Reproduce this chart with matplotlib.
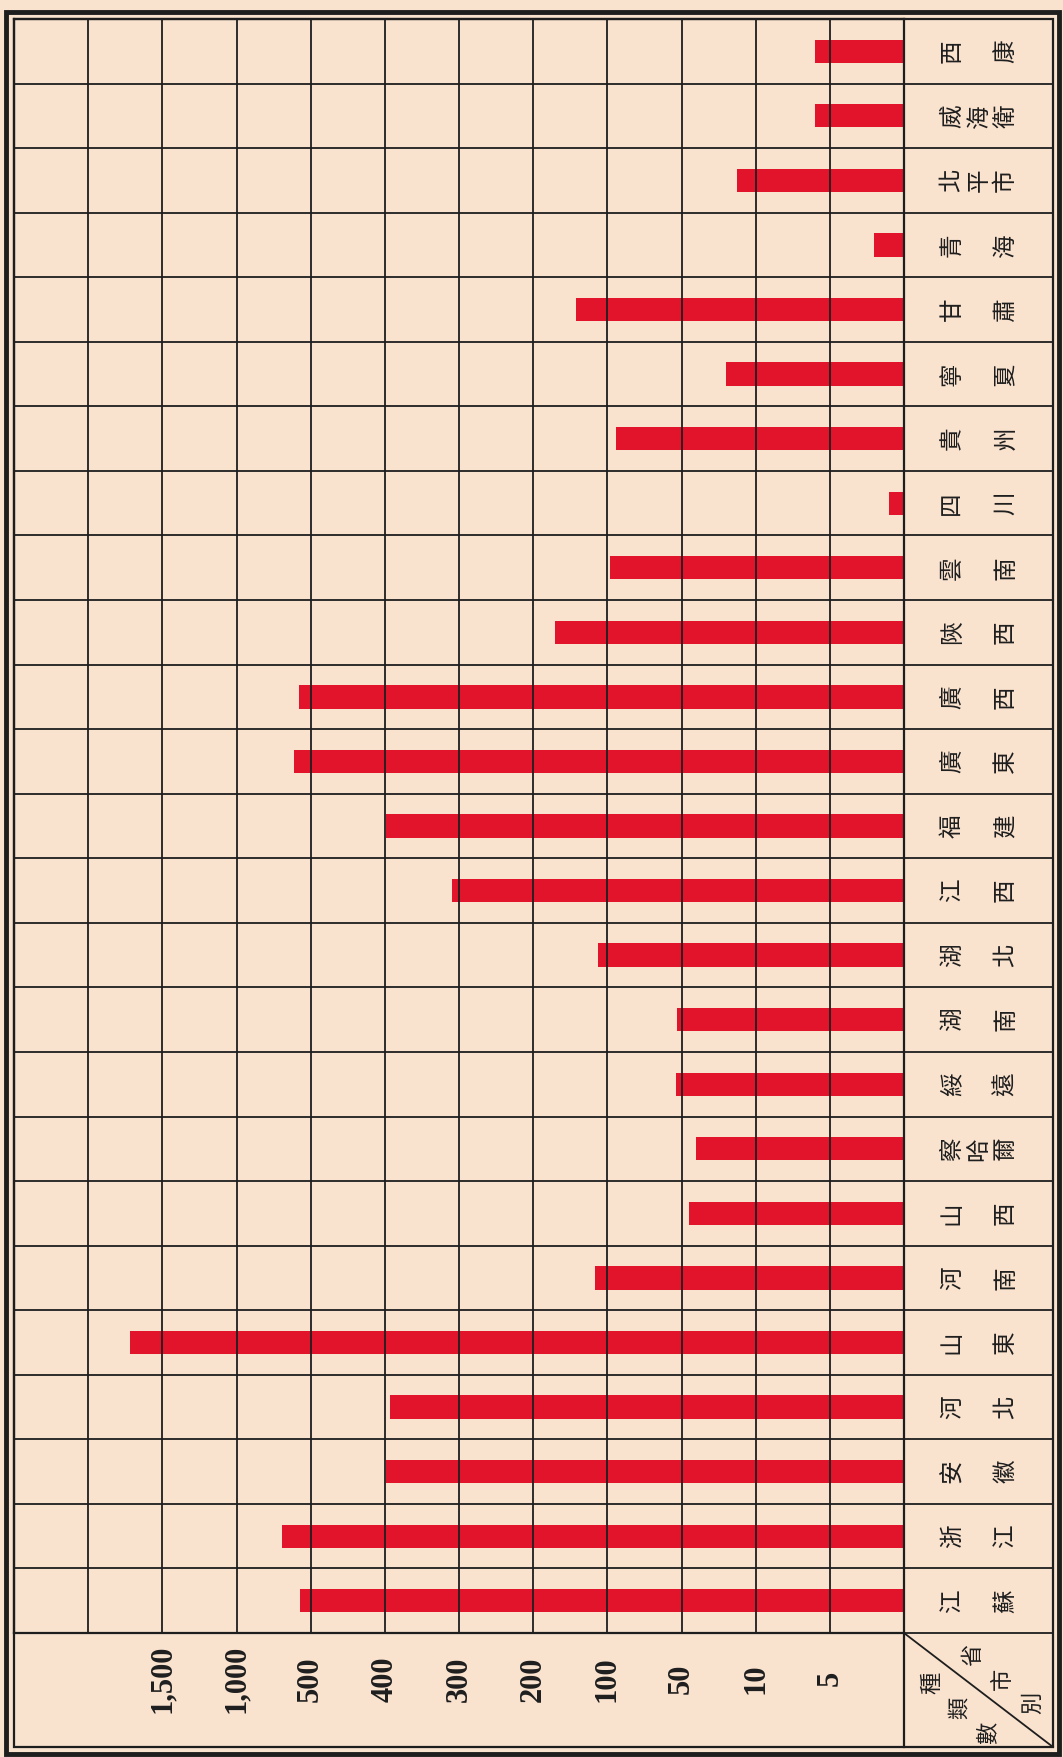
import numpy as np
import matplotlib
matplotlib.use('Agg')
import matplotlib.pyplot as plt
from matplotlib.lines import Line2D
from matplotlib.patches import Rectangle

# data, read top to bottom
provinces = ['西康', '威海衛', '北平市', '青海', '甘肅', '寧夏', '貴州', '四川', '雲南', '陝西',
             '廣西', '廣東', '福建', '江西', '湖北', '湖南', '綏遠', '察哈爾', '山西', '河南',
             '山東', '河北', '安徽', '浙江', '江蘇']
counts = [6, 6, 20, 2, 142, 26, 94, 1, 98, 170,
          580, 610, 398, 310, 112, 53, 54, 42, 46, 117,
          1720, 393, 399, 690, 575]
grid_values = [0, 5, 10, 50, 100, 200, 300, 400, 500, 1000, 1500, 2000, 2500]
tick_labels = ['', '5', '10', '50', '100', '200', '300', '400', '500', '1,000', '1,500', '', '']
corner_top = '省市別'
corner_bottom = '種類數'

paper = '#f9e2ce'
red = '#e2142b'
ink = '#1e1e1e'
cjk = ['Noto Sans CJK TC', 'DejaVu Sans']

W, H = 1063, 1757
fig = plt.figure(figsize=(W / 100, H / 100), dpi=100)
fig.patch.set_facecolor(paper)


def fx(x):
    return x / W


def fy(y):
    return 1 - y / H


# uneven scale: every grid step is one column
steps = np.arange(len(grid_values))


def forward(v):
    return np.interp(v, grid_values, steps)


def inverse(s):
    return np.interp(s, steps, grid_values)


left, right, top, bottom = 14, 904, 19, 1633
ax = fig.add_axes([fx(left), fy(bottom), fx(right) - fx(left), fy(top) - fy(bottom)])
ax.set_facecolor(paper)
ax.set_xscale('function', functions=(forward, inverse))

rows = np.arange(len(provinces)) + 0.5
ax.barh(rows, counts, height=0.36, color=red, zorder=1)
ax.set_xlim(grid_values[-1], 0)
ax.set_ylim(len(provinces), 0)

ax.set_xticks(grid_values)
ax.set_xticklabels(tick_labels, rotation=90, va='center', family='Liberation Serif',
                   fontsize=22, fontweight='bold', color=ink)
ax.minorticks_off()
ax.tick_params(axis='x', length=0, pad=33)
ax.set_yticks(np.arange(len(provinces) + 1))
ax.tick_params(axis='y', length=0, labelleft=False)
ax.grid(True, color=ink, linewidth=1.3)
ax.set_axisbelow(False)
for s in ax.spines.values():
    s.set_color(ink)
    s.set_linewidth(1.6)

# label column on the right
col_right = (1053 - left) / (right - left)
col_mid = (979 - left) / (right - left)
ax.hlines(np.arange(len(provinces) + 1), 1.0, col_right, transform=ax.get_yaxis_transform(),
          color=ink, linewidth=1.3, clip_on=False)
for r, name in zip(rows, provinces):
    txt = name[0] + '\n\n' + name[1] if len(name) == 2 else '\n'.join(name)
    ax.text(col_mid, r, txt, transform=ax.get_yaxis_transform(), rotation=90,
            ha='center', va='center', multialignment='center', linespacing=1.2,
            family=cjk, fontsize=17, color=ink, clip_on=False)

# header corner cell
fig.add_artist(Line2D([fx(904), fx(904)], [fy(1633), fy(1747)], color=ink, linewidth=1.6))
fig.add_artist(Line2D([fx(904), fx(1053)], [fy(1633), fy(1747)], color=ink, linewidth=1.3))
for ch, (x, y) in zip(corner_top, [(973, 1655), (1002, 1679), (1033, 1703)]):
    fig.text(fx(x), fy(y), ch, rotation=90, ha='center', va='center',
             family=cjk, fontsize=16, color=ink)
for ch, (x, y) in zip(corner_bottom, [(932, 1683), (959, 1708), (988, 1733)]):
    fig.text(fx(x), fy(y), ch, rotation=90, ha='center', va='center',
             family=cjk, fontsize=16, color=ink)

# double frame
fig.add_artist(Rectangle((fx(14), fy(1747)), fx(1053) - fx(14), fy(19) - fy(1747),
                         transform=fig.transFigure, fill=False, edgecolor=ink, linewidth=1.6))
fig.add_artist(Rectangle((fx(6), fy(1754)), fx(1059) - fx(6), fy(12) - fy(1754),
                         transform=fig.transFigure, fill=False, edgecolor=ink, linewidth=3.5))

fig.savefig('out.png', dpi=100, facecolor=paper)
